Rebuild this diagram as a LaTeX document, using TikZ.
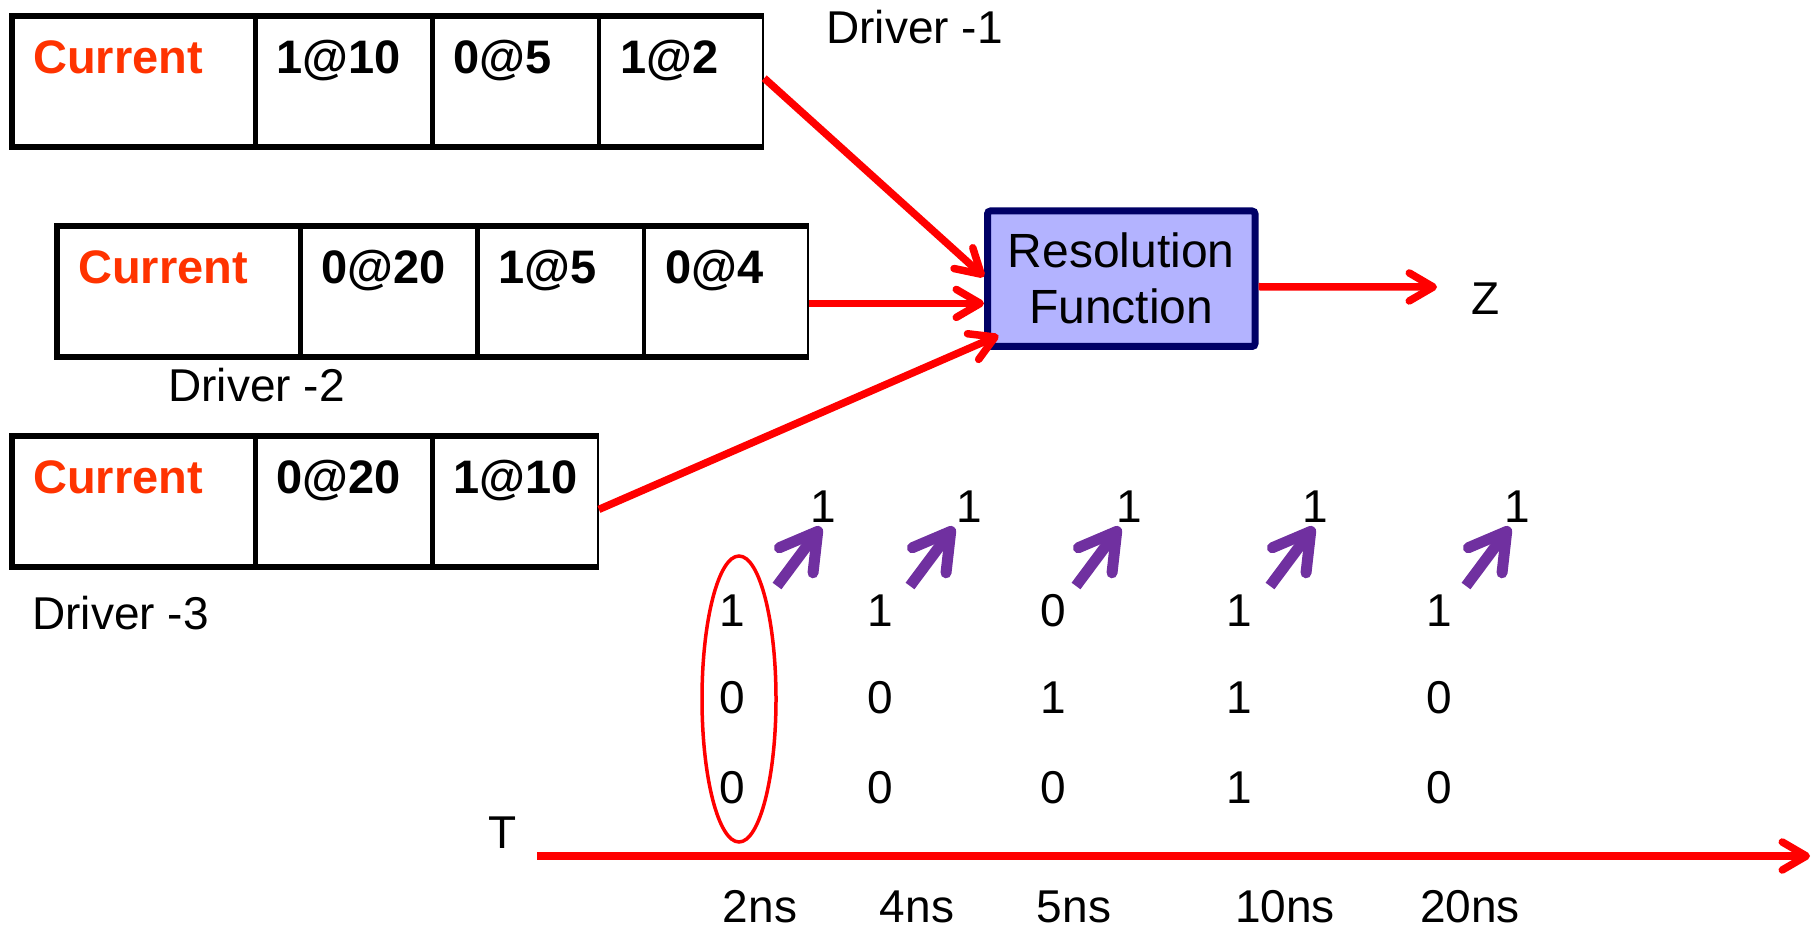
\documentclass[tikz,border=0pt]{standalone}
\usepackage{fontspec}
\setmainfont{Liberation Sans}
\usetikzlibrary{arrows.meta,shapes.geometric}

\definecolor{curred}{HTML}{FF3300}
\definecolor{arrred}{HTML}{FF0000}
\definecolor{purp}{HTML}{7030A0}
\definecolor{boxfill}{HTML}{B3B3FF}
\definecolor{boxline}{HTML}{000066}

\tikzset{
  cell/.style={draw=black, line width=1.15pt, anchor=north west,
    inner xsep=10pt, inner ysep=0pt, text width=#1, align=left,
    minimum height=64.25pt, text height=28pt, text depth=36.25pt,
    font=\fontsize{23.5}{28}\selectfont\bfseries},
  cur/.style={text=curred},
  rim/.style={draw=black, line width=3pt, line cap=butt, line join=miter},
  lbl/.style={font=\fontsize{23}{28}\selectfont, inner sep=0pt},
  redarrow/.style={draw=arrred, line width=3.75pt,
    -{Straight Barb[length=12pt,width=14pt,round]}},
  parrow/.style={draw=purp, line width=5.5pt,
    -{Straight Barb[length=18pt,width=21pt,round]}},
}

\begin{document}
\begin{tikzpicture}[x=0.5pt,y=-0.5pt]
\useasboundingbox (0,0) rectangle (1820,930);

% Driver 1 queue
\node[cell=100.5pt, cur] (a1) at (12,16) {Current};
\node[cell=67.5pt] (a2) at (a1.north east) {1@10};
\node[cell=62pt]   (a3) at (a2.north east) {0@5};
\node[cell=61.5pt] (a4) at (a3.north east) {1@2};
\draw[rim] (a4.north east) -- (a1.north west) -- (a1.south west) -- (a4.south east);

% Driver 2 queue
\node[cell=100.5pt, cur] (b1) at (57,226) {Current};
\node[cell=67.5pt] (b2) at (b1.north east) {0@20};
\node[cell=62pt]   (b3) at (b2.north east) {1@5};
\node[cell=61.5pt] (b4) at (b3.north east) {0@4};
\draw[rim] (b4.north east) -- (b1.north west) -- (b1.south west) -- (b4.south east);

% Driver 3 queue
\node[cell=100.5pt, cur] (c1) at (12,436) {Current};
\node[cell=67.5pt] (c2) at (c1.north east) {0@20};
\node[cell=62pt]   (c3) at (c2.north east) {1@10};
\draw[rim] (c3.north east) -- (c1.north west) -- (c1.south west) -- (c3.south east);

% driver labels
\node[lbl, anchor=west] (d1) at (826,27) {Driver -1};
\node[lbl, anchor=west] (d2) at (168,385) {Driver -2};
\node[lbl, anchor=west] (d3) at (32,613) {Driver -3};

% resolution function
\node[draw=boxline, fill=boxfill, line width=3.5pt, rounded corners=1.5pt,
      minimum width=133.75pt, minimum height=67.75pt, align=center,
      font=\fontsize{24}{28}\selectfont] (rf) at (1121.25,278.75) {Resolution\\Function};

\draw[redarrow] ([yshift=1.6pt]a4.east) -- ([yshift=1pt]rf.west);
\draw[redarrow] ([yshift=-6pt]b4.east) -- ([yshift=-6pt]b4.east -| rf.west);
\draw[redarrow] ([yshift=-4pt]c3.east) -- ([xshift=7.25pt,yshift=7.25pt]rf.south west);

\node[lbl] (z) at (1486,299) {Z};
\coordinate (zt) at (1437,287);
\draw[redarrow] ([yshift=-4pt]rf.east) -- (zt);

% resolved values
\foreach \i/\tx/\ux in {1/777/823, 2/910/969, 3/1076/1129, 4/1270/1315, 5/1466/1517} {
  \node[lbl] (up\i) at (\ux,507) {1};
  \coordinate (pt\i) at (\tx,586);
  \coordinate (ph\i) at (\tx+44,527);
  \draw[parrow] (pt\i) -- (ph\i);
}

% driver values at each time
\foreach \c/\x/\ra/\rb/\rc in {1/732/1/0/0, 2/880/1/0/0, 3/1053/0/1/0, 4/1239/1/1/1, 5/1439/1/0/0} {
  \node[lbl] (ga\c) at (\x,611) {\ra};
  \node[lbl] (gb\c) at (\x,698) {\rb};
  \node[lbl] (gc\c) at (\x,788) {\rc};
}

\node[ellipse, draw=arrred, line width=1.75pt, minimum width=37pt,
      minimum height=143pt, inner sep=0pt] (sel) at (739,699) {};

% time axis
\node[lbl] (t) at (503,833) {T};
\coordinate (ts) at (537,856);
\coordinate (te) at (1810,856);
\draw[redarrow] (ts) -- (te);

\foreach \n/\x/\s in {1/760/2ns, 2/917/4ns, 3/1074/5ns, 4/1285/10ns, 5/1470/20ns} {
  \node[lbl] (tl\n) at (\x,907) {\s};
}
\end{tikzpicture}
\end{document}
